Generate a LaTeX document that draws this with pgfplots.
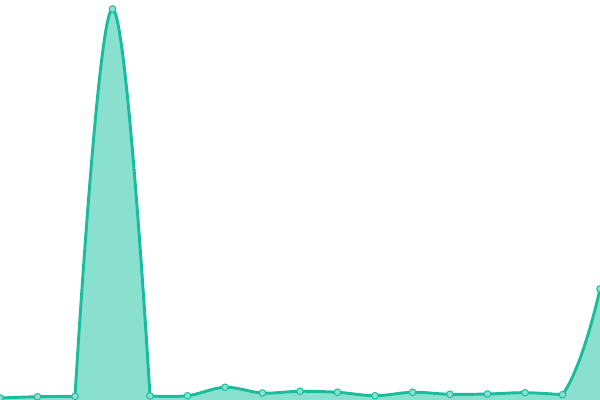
\documentclass[border=0pt]{standalone}
\usepackage{pgfplots}
\pgfplotsset{compat=1.18}
\begin{document}
\begin{tikzpicture}
    \definecolor{turq}{HTML}{1ABC9C}
    \definecolor{turqfill}{HTML}{8AE0CF}
    \pgfplotsset{
        seg/.style={draw=turqfill, line width=0.4pt, fill=turqfill, smooth, tension=0.6, forget plot},
        segline/.style={draw=turq, line width=2.2pt, smooth, tension=0.6, line cap=round, line join=round, forget plot},
    }
    \begin{axis}[
        scale only axis,
        width=450pt, height=300pt,
        hide axis,
        xmin=0, xmax=16,
        ymin=0, ymax=400,
        ]
        % last rise first: its dip between 14 and 15 is hidden by the fill drawn next
        \addplot[seg, tension=1] coordinates {(14,7.3) (15,5.3) (16,111)} \closedcycle;
        \addplot[segline, tension=1] coordinates {(14,7.3) (15,5.3) (16,111)};
        % fills, piece by piece so the curve does not dip under the baseline
        \addplot[seg] coordinates {(0,2) (1,3.3) (2,3.7)} \closedcycle;
        \addplot[seg, tension=0.7] coordinates {(2,3.7) (3,391) (4,4)} \closedcycle;
        \addplot[seg] coordinates {
            (4,4) (5,4.3) (6,12.7) (7,7) (8,8.7) (9,7.7) (10,4.3)
            (11,7.7) (12,5.7) (13,6) (14,7.3) (15,5.3)} \closedcycle;
        % lines
        \addplot[segline] coordinates {(0,2) (1,3.3) (2,3.7)};
        \addplot[segline, tension=0.7] coordinates {(2,3.7) (3,391) (4,4)};
        \addplot[segline] coordinates {
            (4,4) (5,4.3) (6,12.7) (7,7) (8,8.7) (9,7.7) (10,4.3)
            (11,7.7) (12,5.7) (13,6) (14,7.3) (15,5.3)};
        % points
        \addplot[only marks, mark=*, mark size=2.5pt,
            mark options={fill=turqfill, draw=turq, line width=0.7pt}]
            coordinates {
            (0,2) (1,3.3) (2,3.7) (3,391) (4,4) (5,4.3) (6,12.7) (7,7) (8,8.7)
            (9,7.7) (10,4.3) (11,7.7) (12,5.7) (13,6) (14,7.3) (15,5.3) (16,111)};
    \end{axis}
    \pgfresetboundingbox
    \path[use as bounding box] (0,0) rectangle (450pt,300pt);
\end{tikzpicture}
\end{document}
